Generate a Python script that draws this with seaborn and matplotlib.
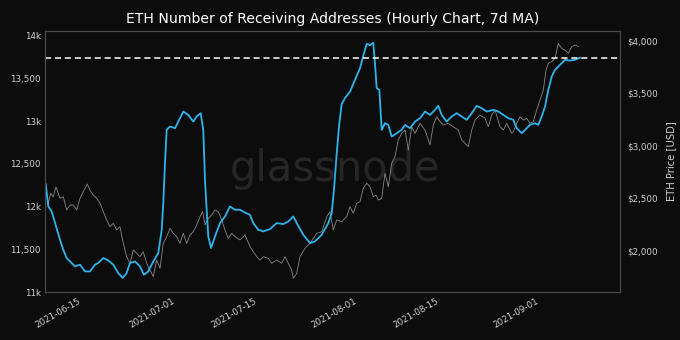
import matplotlib
matplotlib.use("Agg")
import matplotlib.pyplot as plt
import matplotlib.dates as mdates
from matplotlib.ticker import FuncFormatter, FixedLocator
import seaborn as sns
import pandas as pd

# Reference date; series positions are day offsets from it
origin = "2021-06-15"

# Receiving addresses, 7d moving average
addr_days = [-6.18, -5.74, -5.16, -4.60, -3.75, -3.19, -2.61, -2.04, -1.19, -0.34,
             0.51, 1.36, 2.21, 2.78, 3.63, 4.48, 5.33, 6.18, 6.93, 7.61,
             8.18, 9.03, 9.88, 10.56, 11.29, 12.15, 13.00, 13.58, 13.85, 14.14,
             14.43, 15.00, 15.84, 16.41, 17.26, 18.11, 18.96, 19.54, 20.22, 20.66,
             20.95, 21.24, 21.52, 21.98, 22.66, 23.51, 24.36, 25.21, 26.06, 26.92,
             27.77, 28.62, 29.18, 30.03, 30.89, 32.03, 33.17, 34.29, 35.14, 36.00,
             36.58, 37.70, 38.84, 39.69, 40.84, 41.96, 42.54, 42.93, 43.39, 43.80,
             44.24, 44.80, 45.66, 46.51, 47.36, 48.04, 48.50, 49.06, 49.62, 49.91,
             50.20, 50.65, 51.06, 51.62, 52.18, 52.76, 53.61, 54.46, 55.03, 55.88,
             56.73, 57.58, 58.43, 59.28, 60.14, 60.70, 61.28, 62.13, 62.98, 63.83,
             64.69, 65.54, 66.39, 67.24, 68.09, 68.94, 70.07, 70.92, 71.78, 72.63,
             73.48, 74.06, 74.91, 75.76, 76.32, 77.17, 77.73, 78.31, 78.88, 79.44,
             80.02, 80.58, 81.14, 81.72, 82.28, 83.13, 83.99, 84.84]
addr_values = [12267, 12002, 11943, 11810, 11612, 11495, 11398, 11358, 11300, 11320,
               11241, 11241, 11320, 11340, 11398, 11370, 11320, 11222, 11164, 11222,
               11340, 11358, 11300, 11202, 11241, 11358, 11456, 11729, 12041, 12509,
               12899, 12938, 12918, 12996, 13113, 13074, 12996, 13055, 13094, 12899,
               12314, 11960, 11651, 11515, 11651, 11807, 11885, 12002, 11963, 11963,
               11930, 11904, 11807, 11729, 11710, 11737, 11807, 11795, 11826, 11885,
               11807, 11670, 11573, 11593, 11670, 11807, 11924, 12200, 12620, 12950,
               13200, 13270, 13347, 13484, 13621, 13797, 13905, 13890, 13920, 13680,
               13387, 13367, 12899, 12977, 12957, 12820, 12860, 12899, 12957, 12918,
               12996, 13035, 13113, 13074, 13133, 13180, 13074, 12996, 13055, 13094,
               13055, 13016, 13094, 13180, 13152, 13113, 13133, 13113, 13074, 13035,
               13016, 12918, 12860, 12918, 12957, 12977, 12957, 13055, 13172, 13367,
               13523, 13601, 13640, 13680, 13719, 13710, 13719, 13745]

# ETH price in USD
price_days = [-6.01, -5.74, -5.33, -4.89, -4.43, -3.75, -3.19, -2.61, -2.04, -1.48,
              -0.90, -0.34, 0.22, 0.90, 1.36, 1.92, 2.50, 3.07, 3.63, 4.21,
              4.77, 5.33, 5.91, 6.47, 7.04, 7.61, 8.18, 8.74, 9.32, 9.88,
              10.44, 11.02, 11.58, 12.15, 12.72, 13.29, 13.85, 14.43, 15.00, 15.55,
              16.13, 16.69, 17.26, 17.84, 18.40, 18.96, 19.54, 20.10, 20.56, 20.95,
              21.52, 22.10, 22.66, 23.22, 23.80, 24.36, 24.92, 25.50, 26.06, 26.92,
              27.77, 28.62, 29.18, 29.76, 30.32, 30.89, 31.74, 32.32, 33.17, 34.02,
              34.58, 35.14, 35.72, 36.00, 36.58, 37.14, 37.99, 38.84, 39.98, 40.84,
              41.69, 42.25, 42.81, 43.39, 44.24, 45.09, 45.66, 46.22, 46.80, 47.36,
              47.92, 48.50, 49.06, 49.62, 50.09, 50.48, 51.06, 51.62, 52.18, 52.76,
              53.32, 53.88, 54.46, 55.03, 55.59, 56.17, 56.73, 57.29, 57.58, 58.43,
              59.28, 59.85, 60.43, 60.99, 61.55, 62.40, 63.25, 64.11, 64.69, 65.25,
              65.81, 66.39, 66.95, 67.80, 68.65, 69.22, 69.80, 70.36, 71.21, 71.78,
              72.35, 73.20, 73.48, 74.06, 74.62, 75.18, 75.76, 76.32, 76.88, 77.46,
              78.02, 78.59, 79.05, 79.44, 80.02, 80.58, 81.14, 81.72, 82.28, 82.85,
              83.42, 83.99, 84.56]
price_values = [2532, 2454, 2549, 2516, 2611, 2501, 2516, 2390, 2437, 2437,
                2390, 2501, 2564, 2637, 2580, 2532, 2501, 2454, 2374, 2295,
                2231, 2263, 2200, 2231, 2073, 1946, 1883, 2010, 1978, 1946,
                1993, 1883, 1819, 1756, 1914, 1835, 2073, 2137, 2216, 2168,
                2137, 2073, 2168, 2073, 2152, 2184, 2247, 2326, 2374, 2247,
                2310, 2342, 2390, 2374, 2295, 2200, 2121, 2168, 2137, 2105,
                2152, 2041, 1993, 1946, 1914, 1946, 1930, 1883, 1914, 1883,
                1946, 1883, 1819, 1740, 1787, 1946, 2025, 2073, 2168, 2184,
                2326, 2374, 2200, 2295, 2279, 2326, 2421, 2358, 2453, 2469,
                2596, 2644, 2611, 2516, 2532, 2485, 2501, 2739, 2611, 2834,
                2897, 3056, 3119, 3150, 2960, 3182, 3119, 3182, 3215, 3150,
                3008, 3198, 3277, 3230, 3198, 3215, 3182, 3150, 3056, 3024,
                2992, 3150, 3245, 3293, 3262, 3182, 3293, 3341, 3182, 3150,
                3214, 3119, 3135, 3214, 3277, 3245, 3262, 3214, 3230, 3341,
                3436, 3531, 3721, 3785, 3801, 3832, 3975, 3927, 3911, 3880,
                3943, 3959, 3945]

tick_dates = ["2021-06-15", "2021-07-01", "2021-07-15", "2021-08-01",
              "2021-08-15", "2021-09-01"]
addr_ticks = [11000, 11500, 12000, 12500, 13000, 13500, 14000]
price_ticks = [2000, 2500, 3000, 3500, 4000]

title = "ETH Number of Receiving Addresses (Hourly Chart, 7d MA)"
price_label = "ETH Price [USD]"
watermark = "glassnode"

t0 = pd.Timestamp(origin)
addr_df = pd.DataFrame({"date": t0 + pd.to_timedelta(addr_days, unit="D"),
                        "addresses": addr_values})
price_df = pd.DataFrame({"date": t0 + pd.to_timedelta(price_days, unit="D"),
                         "price": price_values})

bg = "#0c0c0c"
sns.set_theme(style="dark")
plt.rcParams["font.family"] = ["DejaVu Sans"]

fig = plt.figure(figsize=(6.8, 3.4), dpi=100, facecolor=bg)
ax = fig.add_axes([45 / 680, 1 - 292 / 340, 575 / 680, 261.3 / 340])
ax2 = ax.twinx()
ax2.set_facecolor(bg)
ax.set_zorder(ax2.get_zorder() + 1)
ax.patch.set_visible(False)

sns.lineplot(data=price_df, x="date", y="price", ax=ax2, color="#878787",
             linewidth=0.6, legend=False)
sns.lineplot(data=addr_df, x="date", y="addresses", ax=ax, color="#2db4ec",
             linewidth=1.3, legend=False)

# current level marker
ax.axhline(addr_values[-1], color="white", linestyle=(0, (4, 2.5)), linewidth=1.1)

ax2.text(0.505, 0.47, watermark, transform=ax2.transAxes, ha="center",
         va="center", fontsize=30, color="#262626", zorder=0)

ax.set_xlim(t0 + pd.Timedelta(days=-6.30), t0 + pd.Timedelta(days=91.65))
ax.set_ylim(11000, 14060)
ax2.set_ylim(1610, 4095)

ax.xaxis.set_major_locator(FixedLocator(mdates.date2num(pd.to_datetime(tick_dates))))
ax.xaxis.set_major_formatter(mdates.DateFormatter("%Y-%m-%d"))
ax.yaxis.set_major_locator(FixedLocator(addr_ticks))
ax2.yaxis.set_major_locator(FixedLocator(price_ticks))


def addr_fmt(v, _):
    if v % 1000 == 0:
        return f"{int(v // 1000)}k"
    return f"{int(v):,}"


ax.yaxis.set_major_formatter(FuncFormatter(addr_fmt))
ax2.yaxis.set_major_formatter(FuncFormatter(lambda v, _: f"${int(v):,}"))

tick_color = "#d0d0d0"
ax.tick_params(axis="both", length=0, labelsize=6.3, colors=tick_color, pad=3)
ax2.tick_params(axis="y", length=0, labelsize=6.3, colors=tick_color, pad=5)
for lbl in ax.get_xticklabels():
    lbl.set_rotation(30)
    lbl.set_ha("right")

ax.set_xlabel("")
ax.set_ylabel("")
ax2.set_ylabel(price_label, color=tick_color, fontsize=7.2, labelpad=6)
ax.grid(False)
ax2.grid(False)

for a in (ax, ax2):
    for s in a.spines.values():
        s.set_color("#4a4a4a")
        s.set_linewidth(0.8)

fig.suptitle(title, color="white", fontsize=10.1, y=0.965, x=(124 + 542) / 2 / 680)

fig.savefig("out.png", dpi=100, facecolor=bg)
